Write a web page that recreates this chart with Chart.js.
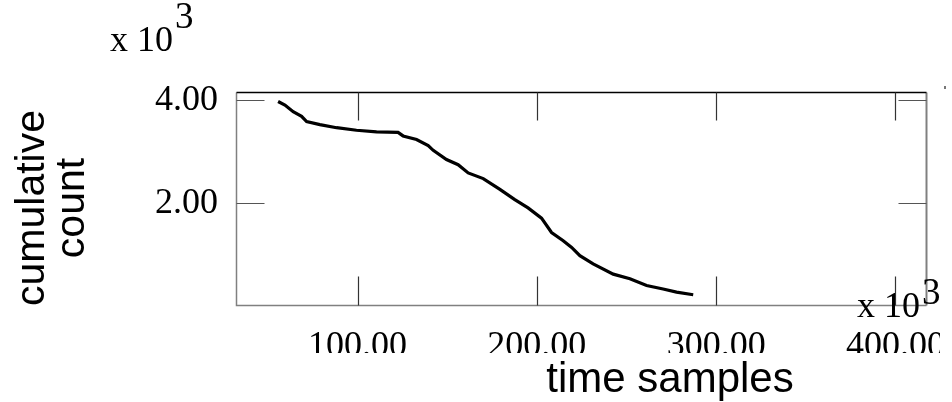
<!DOCTYPE html>
<html>
<head>
<meta charset="utf-8">
<script src="https://cdn.jsdelivr.net/npm/chart.js@4/dist/chart.umd.min.js"></script>
<style>
  body { margin: 0; background: #fff; }
</style>
</head>
<body>
<canvas id="countChart" width="952" height="402"></canvas>
<script>
// time samples (x 10^3) and cumulative count (x 10^3)
const timeSamples = [55.7, 59.5, 64.1, 68.8, 71.6, 79.0, 88.3, 99.4, 110.6, 122.6,
  125.4, 132.9, 139.4, 142.2, 149.6, 156.1, 161.7, 170.1, 179.4, 187.7,
  195.1, 202.6, 208.2, 214.7, 219.4, 224.0, 231.4, 242.6, 251.9, 261.2,
  270.4, 277.9, 287.2];
const cumulativeCount = [3.97, 3.90, 3.77, 3.68, 3.58, 3.52, 3.46, 3.41, 3.38, 3.37,
  3.30, 3.23, 3.11, 3.02, 2.84, 2.74, 2.58, 2.47, 2.26, 2.06,
  1.90, 1.70, 1.42, 1.26, 1.13, 0.97, 0.81, 0.61, 0.52, 0.39,
  0.32, 0.26, 0.21];

const xTickValues = [100, 200, 300, 400];
const xTickLabels = ["100.00", "200.00", "300.00", "400.00"];
const yTickValues = [2, 4];
const yTickLabels = ["2.00", "4.00"];

const points = timeSamples.map((t, i) => ({ x: t, y: cumulativeCount[i] }));

// frame, inner tick marks and all the text
const framePlugin = {
  id: "framePlugin",
  beforeDatasetsDraw(chart) {
    const { ctx, chartArea: a, scales } = chart;
    const x = scales.x, y = scales.y;
    ctx.save();
    ctx.strokeStyle = "#808080";
    ctx.lineWidth = 1.5;
    ctx.beginPath();
    ctx.moveTo(a.left, a.top);
    ctx.lineTo(a.left, a.bottom);
    ctx.lineTo(a.right, a.bottom);
    ctx.stroke();
    ctx.lineWidth = 2;
    ctx.beginPath();
    ctx.moveTo(a.right, a.top);
    ctx.lineTo(a.right, a.bottom);
    ctx.stroke();
    ctx.strokeStyle = "#000";
    ctx.lineWidth = 1.5;
    ctx.beginPath();
    ctx.moveTo(a.left, a.top);
    ctx.lineTo(a.right, a.top);
    ctx.stroke();

    ctx.lineWidth = 1.2;
    ctx.strokeStyle = "#333";
    xTickValues.forEach(v => {
      const px = Math.round(x.getPixelForValue(v)) + 0.5;
      ctx.beginPath();
      ctx.moveTo(px, a.top);
      ctx.lineTo(px, a.top + 28);
      ctx.moveTo(px, a.bottom);
      ctx.lineTo(px, a.bottom - 29);
      ctx.stroke();
    });
    ctx.strokeStyle = "#555";
    yTickValues.forEach(v => {
      const py = Math.round(y.getPixelForValue(v)) + 0.5;
      ctx.beginPath();
      ctx.moveTo(a.left, py);
      ctx.lineTo(a.left + 28, py);
      ctx.moveTo(a.right, py);
      ctx.lineTo(a.right - 28, py);
      ctx.stroke();
    });
    ctx.restore();
  },
  afterDraw(chart) {
    const { ctx, scales } = chart;
    const x = scales.x, y = scales.y;
    ctx.save();
    ctx.fillStyle = "#000";

    // y tick labels
    ctx.font = '36px "Liberation Serif"';
    ctx.textAlign = "right";
    ctx.textBaseline = "middle";
    yTickValues.forEach((v, i) => {
      ctx.fillText(yTickLabels[i], 218, y.getPixelForValue(v) + 1);
    });

    // x tick labels, cut off like the original
    ctx.save();
    ctx.beginPath();
    ctx.rect(0, 0, 940, 353);
    ctx.clip();
    ctx.textAlign = "center";
    ctx.textBaseline = "alphabetic";
    xTickValues.forEach((v, i) => {
      ctx.fillText(xTickLabels[i], x.getPixelForValue(v), 356);
    });
    ctx.restore();

    // multipliers
    ctx.textAlign = "left";
    ctx.textBaseline = "alphabetic";
    ctx.font = '36px "Liberation Serif"';
    ctx.fillText("x 10", 110, 51);
    ctx.fillText("x 10", 857, 317);
    ctx.font = '37px "Liberation Serif"';
    ctx.fillText("3", 175, 28);
    ctx.fillText("3", 922, 304);

    // stray mark at the right edge
    ctx.fillStyle = "#777";
    ctx.fillRect(944, 86, 2, 3);
    ctx.fillStyle = "#000";

    // axis titles
    ctx.font = '42px "Liberation Sans"';
    ctx.textAlign = "center";
    ctx.fillText("time samples", 670, 392);

    ctx.font = '41px "Liberation Sans"';
    ctx.translate(44, 208);
    ctx.rotate(-Math.PI / 2);
    ctx.fillText("cumulative", 0, 0);
    ctx.fillText("count", 0, 40);
    ctx.restore();
  }
};

new Chart(document.getElementById("countChart"), {
  type: "line",
  data: {
    datasets: [
      {
        data: points,
        borderColor: "#000",
        borderWidth: 3.2,
        pointRadius: 0,
        tension: 0,
        fill: false,
      },
    ],
  },
  options: {
    responsive: false,
    animation: false,
    layout: { padding: { left: 236.5, top: 92.5, right: 25.5, bottom: 96.5 } },
    plugins: { legend: { display: false }, tooltip: { enabled: false } },
    scales: {
      x: { type: "linear", min: 32.5, max: 417.3, display: false },
      y: { type: "linear", min: 0, max: 4.145, display: false },
    },
  },
  plugins: [framePlugin],
});
</script>
</body>
</html>
